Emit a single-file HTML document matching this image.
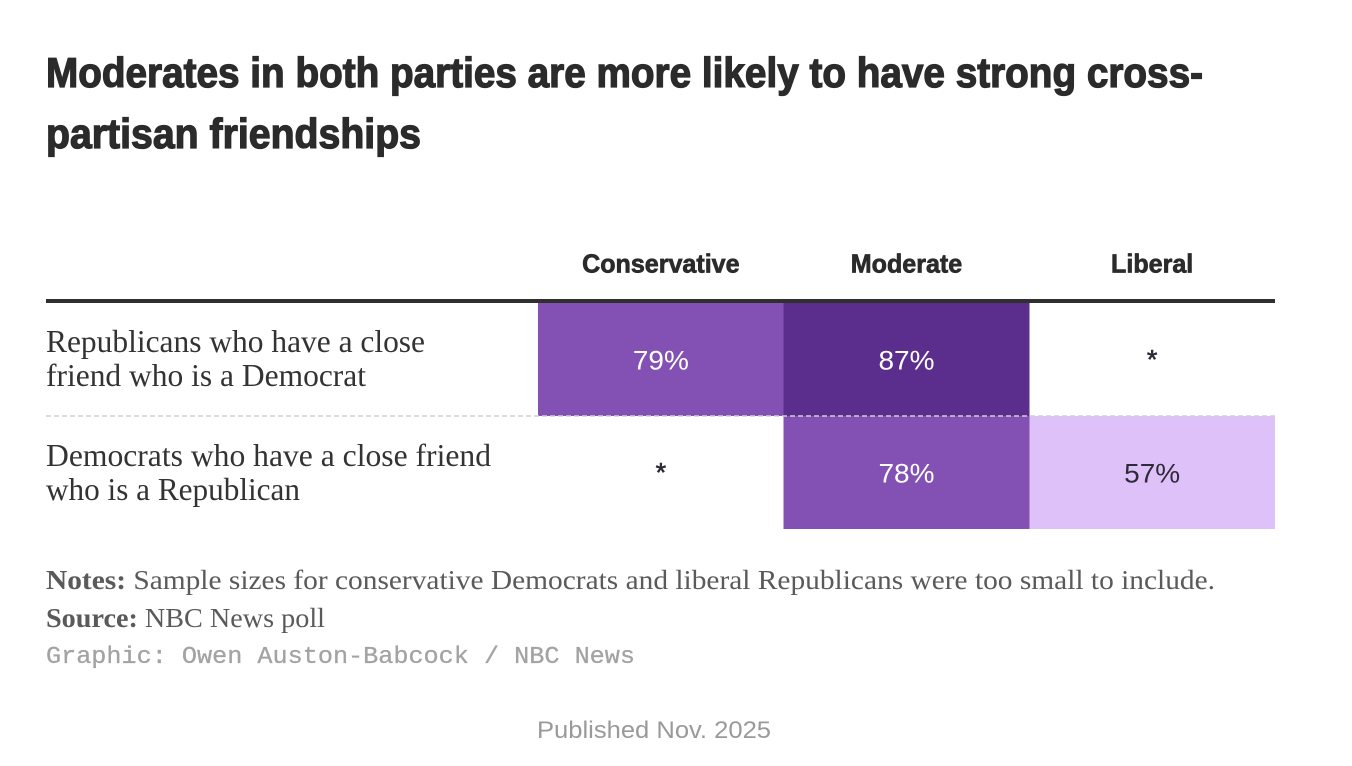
<!DOCTYPE html>
<html lang="en">
<head>
<meta charset="utf-8">
<title>Moderates in both parties are more likely to have strong cross-partisan friendships</title>
<style>
html,body{margin:0;padding:0;background:#fff;width:1352px;height:766px;overflow:hidden}
svg{display:block}
.title{font:bold 42px "Liberation Sans",sans-serif;fill:#2b2b2b;stroke:#2b2b2b;stroke-width:1.3px}
.head{font:bold 26px "Liberation Sans",sans-serif;fill:#2b2b2b;stroke:#2b2b2b;stroke-width:.7px}
.row{font:32px "Liberation Serif",serif;fill:#333}
.note{font:27px "Liberation Serif",serif;fill:#5a5a5a}
.credit{font:24px "Liberation Mono",monospace;fill:#a3a3a3;stroke:#a3a3a3;stroke-width:.3px}
.pub{font:24px "Liberation Sans",sans-serif;fill:#9a9a9a}
.val{font:27px "Liberation Sans",sans-serif}
</style>
</head>
<body>
<svg id="chart" width="1352" height="766" viewBox="0 0 1352 766" xmlns="http://www.w3.org/2000/svg">
  <g>
    <text class="title" x="46" y="87" textLength="1157" lengthAdjust="spacingAndGlyphs">Moderates in both parties are more likely to have strong cross-</text>
    <text class="title" x="46" y="148" textLength="375" lengthAdjust="spacingAndGlyphs">partisan friendships</text>
  </g>
  <g id="cells"></g>
  <g id="heads"></g>
  <rect x="46" y="299" width="1229" height="4" fill="#2f2f2f"></rect>
  <line x1="46" y1="416" x2="1275" y2="416" stroke="#cfcfcf" stroke-width="1.5" stroke-dasharray="5 3"></line>
  <g>
    <text class="row" x="46" y="352" textLength="379" lengthAdjust="spacingAndGlyphs">Republicans who have a close</text>
    <text class="row" x="46" y="386" textLength="320" lengthAdjust="spacingAndGlyphs">friend who is a Democrat</text>
    <text class="row" x="46" y="466" textLength="445" lengthAdjust="spacingAndGlyphs">Democrats who have a close friend</text>
    <text class="row" x="46" y="500" textLength="254" lengthAdjust="spacingAndGlyphs">who is a Republican</text>
  </g>
  <g>
    <text class="note" x="46" y="589" textLength="1169" lengthAdjust="spacingAndGlyphs"><tspan font-weight="bold">Notes:</tspan> Sample sizes for conservative Democrats and liberal Republicans were too small to include.</text>
    <text class="note" x="46" y="627" textLength="279" lengthAdjust="spacingAndGlyphs"><tspan font-weight="bold">Source:</tspan> NBC News poll</text>
    <text class="credit" x="46" y="663" textLength="589" lengthAdjust="spacingAndGlyphs">Graphic: Owen Auston-Babcock / NBC News</text>
    <text class="pub" x="537" y="738" textLength="234" lengthAdjust="spacingAndGlyphs">Published Nov. 2025</text>
  </g>
</svg>
<script>
const columns = ["Conservative", "Moderate", "Liberal"];
const rowsKeys = ["republicans", "democrats"];
const republicansValues = [79, 87, null];
const democratsValues = [null, 78, 57];

const NS = "http://www.w3.org/2000/svg";
const plotLeft = 538, plotRight = 1275, plotTop = 303, plotBottom = 529;
const colW = (plotRight - plotLeft) / columns.length;
const rowH = (plotBottom - plotTop) / rowsKeys.length;
function xPos(i) { return plotLeft + i * colW; }
function yPos(i) { return plotTop + i * rowH; }
function fillFor(v) {
  if (v >= 85) return "#5b2e8e";
  if (v >= 70) return "#8251b3";
  return "#dec1f9";
}
function inkFor(v) { return v >= 70 ? "#ffffff" : "#2f2a38"; }

const cellsG = document.getElementById("cells");
const headsG = document.getElementById("heads");

columns.forEach(function (name, c) {
  const cx = xPos(c) + colW / 2;
  const t = document.createElementNS(NS, "text");
  t.setAttribute("class", "head");
  t.setAttribute("x", cx);
  t.setAttribute("y", 272.5);
  t.setAttribute("text-anchor", "middle");
  
  
  t.textContent = name;
  headsG.appendChild(t);
  t.setAttribute("transform", "translate(" + cx + " 0) scale(0.965 1) translate(" + (-cx) + " 0)");
});

[republicansValues, democratsValues].forEach(function (vals, r) {
  vals.forEach(function (v, c) {
    const cx = xPos(c) + colW / 2;
    const cy = yPos(r) + rowH / 2;
    if (v !== null) {
      const rect = document.createElementNS(NS, "rect");
      rect.setAttribute("x", xPos(c));
      rect.setAttribute("y", yPos(r));
      rect.setAttribute("width", colW);
      rect.setAttribute("height", rowH);
      rect.setAttribute("fill", fillFor(v));
      rect.setAttribute("shape-rendering", "crispEdges");
      
      
      cellsG.appendChild(rect);
    }
    const label = document.createElementNS(NS, "text");
    label.setAttribute("class", "val");
    label.setAttribute("x", cx);
    label.setAttribute("y", v === null ? cy + 9 : cy + 10);
    label.setAttribute("text-anchor", "middle");
    label.setAttribute("fill", v === null ? "#2f2a38" : inkFor(v));
    if (v === null) {
      label.setAttribute("stroke", "#2f2a38");
      label.setAttribute("stroke-width", "0.6");
    } else {
      label.setAttribute("textLength", "56");
      label.setAttribute("lengthAdjust", "spacingAndGlyphs");
    }
    
    
    label.textContent = v === null ? "*" : v + "%";
    cellsG.appendChild(label);
  });
});
</script>
</body>
</html>
